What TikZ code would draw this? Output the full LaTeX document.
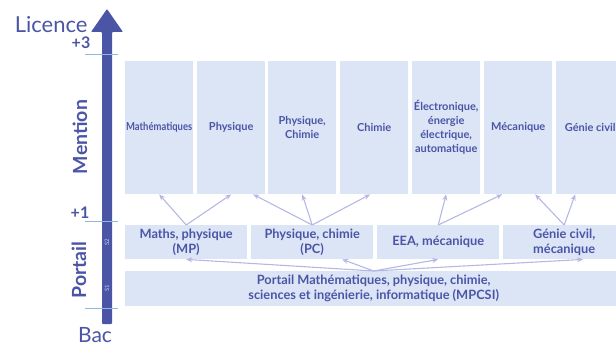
\documentclass[tikz,border=0pt]{standalone}
\usepackage{fontspec}
\setmainfont{Lato}
\usetikzlibrary{arrows.meta}

\definecolor{indigo}{HTML}{4B55A6}
\definecolor{boxblue}{HTML}{DCE5F6}
\definecolor{lila}{HTML}{B4B8E3}
\definecolor{tickblue}{HTML}{92B7DC}

\begin{document}
\begin{tikzpicture}[x=1pt,y=-1pt,
    box/.style={fill=boxblue,inner sep=0pt,align=center,text=indigo,anchor=north west},
    mention/.style={box,minimum width=68pt,minimum height=133pt,font=\bfseries\fontsize{11}{14}\selectfont},
    portail/.style={box,minimum width=122pt,minimum height=34pt,font=\bfseries\fontsize{12.8}{15}\selectfont},
    link/.style={lila,line width=1.1pt,-{Stealth[length=6pt,width=5pt]}},
    level/.style={text=indigo,font=\bfseries\fontsize{16}{16}\selectfont},
    side/.style={text=indigo,rotate=90,font=\bfseries\fontsize{19.5}{19.5}\selectfont},
    sem/.style={text=white!72!indigo,rotate=90,font=\fontsize{6}{6}\selectfont}]
    \clip (0,0) rectangle (616,345);

    \fill[indigo,rounded corners=0.8pt] (102,324) -- (102,32) -- (91,32) -- (107,9) -- (123,32) -- (112,32) -- (112,324) -- cycle;
    \draw[tickblue,line width=0.8pt] (85,54) -- (118,54);
    \draw[tickblue,line width=0.8pt] (85,221) -- (118,221);
    \draw[tickblue,line width=0.8pt] (85,308) -- (118,308);

    \node[text=indigo,anchor=base east,font=\fontsize{22}{22}\selectfont] (licence) at (91,33) {Licence};
    \node[text=indigo,anchor=base,font=\fontsize{21}{21}\selectfont] (bac) at (95,342) {Bac};
    \node[level] (plus3) at (81,43) {+3};
    \node[level] (plus1) at (80,213) {+1};
    \node[side] (mentionlbl) at (80,137) {Mention};
    \node[side] (portaillbl) at (79,270) {Portail};
    \node[sem] (s2lbl) at (107,242) {S2};
    \node[sem] (s1lbl) at (107,288) {S1};

    \node[mention] (m1) at (125,61) {\scalebox{0.86}[1]{Mathématiques}};
    \node[mention] (m2) at (197,61) {Physique};
    \node[mention] (m3) at (268,61) {Physique,\\Chimie};
    \node[mention] (m4) at (340,61) {Chimie};
    \node[mention] (m5) at (412,61) {Électronique,\\énergie\\électrique,\\automatique};
    \node[mention] (m6) at (484,61) {Mécanique};
    \node[mention] (m7) at (556,61) {Génie civil};

    \node[portail] (p1) at (125,225) {Maths, physique\\(MP)};
    \node[portail] (p2) at (251,225) {Physique, chimie\\(PC)};
    \node[portail] (p3) at (377,225) {EEA, mécanique};
    \node[portail] (p4) at (503,225) {Génie civil,\\mécanique};

    \node[portail,minimum width=497pt,minimum height=35pt] (s1) at (125,271) {Portail Mathématiques, physique, chimie,\\sciences et ingénierie, informatique (MPCSI)};

    \draw[link] (p1.north) -- (m1.south);
    \draw[link] (p1.north) -- (m2.south);
    \draw[link] (p2.north) -- ([xshift=22pt]m2.south);
    \draw[link] (p2.north) -- (m3.south);
    \draw[link] (p2.north) -- ([xshift=-4pt]m4.south);
    \draw[link] (p3.north) -- (m5.south);
    \draw[link] (p3.north) -- ([xshift=-16pt]m6.south);
    \draw[link] (p4.north) -- ([xshift=17pt]m6.south);
    \draw[link] (p4.north) -- ([xshift=-15pt]m7.south);

    \draw[link] (s1.north) -- (p1.south);
    \draw[link] (s1.north) -- ([xshift=30pt]p2.south);
    \draw[link] (s1.north) -- (p3.south);
    \draw[link] (s1.north) -- ([xshift=19pt]p4.south);
\end{tikzpicture}
\end{document}
